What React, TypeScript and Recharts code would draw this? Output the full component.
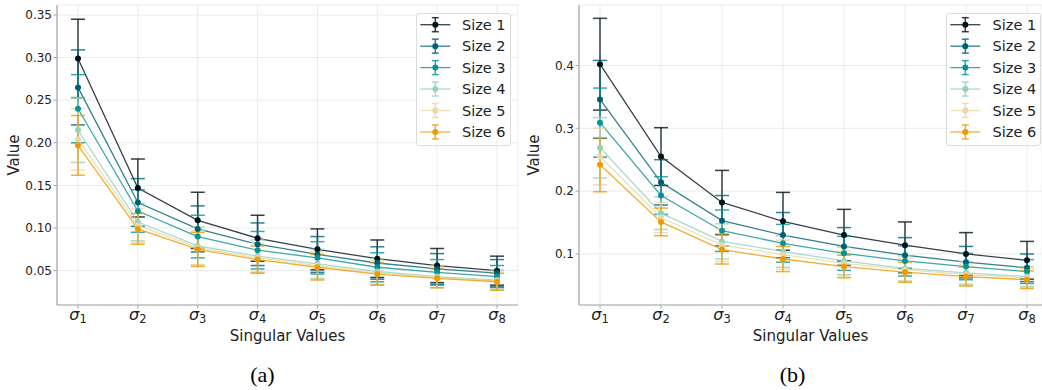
import { LineChart, Line, XAxis, YAxis, CartesianGrid, ErrorBar } from "recharts"

const categories = ["σ1", "σ2", "σ3", "σ4", "σ5", "σ6", "σ7", "σ8"]
const seriesNames = ["Size 1", "Size 2", "Size 3", "Size 4", "Size 5", "Size 6"]
const colors = ["#001219", "#005f73", "#0a9396", "#94d2bd", "#e9d8a6", "#ee9b00"]

const ticksA = [0.05, 0.1, 0.15, 0.2, 0.25, 0.3, 0.35]
const ticksB = [0.1, 0.2, 0.3, 0.4]

// (a) means and error half-widths
const meansA = [
  [0.299, 0.147, 0.109, 0.088, 0.075, 0.064, 0.056, 0.05],
  [0.265, 0.13, 0.099, 0.081, 0.069, 0.059, 0.052, 0.047],
  [0.24, 0.12, 0.09, 0.074, 0.065, 0.054, 0.048, 0.043],
  [0.215, 0.107, 0.079, 0.067, 0.058, 0.049, 0.043, 0.039],
  [0.204, 0.103, 0.077, 0.065, 0.056, 0.047, 0.042, 0.038],
  [0.197, 0.099, 0.075, 0.063, 0.054, 0.046, 0.041, 0.037],
]
const errA = [
  [0.046, 0.034, 0.033, 0.027, 0.024, 0.022, 0.02, 0.017],
  [0.044, 0.028, 0.027, 0.025, 0.021, 0.019, 0.018, 0.016],
  [0.04, 0.025, 0.025, 0.022, 0.019, 0.017, 0.015, 0.013],
  [0.038, 0.022, 0.022, 0.019, 0.017, 0.015, 0.013, 0.012],
  [0.036, 0.02, 0.02, 0.017, 0.016, 0.014, 0.012, 0.011],
  [0.035, 0.018, 0.02, 0.016, 0.015, 0.013, 0.011, 0.01],
]

// (b) means and error half-widths
const meansB = [
  [0.402, 0.255, 0.182, 0.152, 0.13, 0.114, 0.1, 0.09],
  [0.346, 0.214, 0.153, 0.13, 0.112, 0.098, 0.087, 0.078],
  [0.309, 0.193, 0.137, 0.117, 0.101, 0.089, 0.08, 0.072],
  [0.269, 0.165, 0.12, 0.104, 0.089, 0.077, 0.07, 0.064],
  [0.255, 0.158, 0.114, 0.099, 0.085, 0.075, 0.067, 0.062],
  [0.242, 0.151, 0.107, 0.092, 0.08, 0.071, 0.064, 0.059],
]
const errB = [
  [0.073, 0.046, 0.051, 0.046, 0.041, 0.037, 0.034, 0.03],
  [0.062, 0.036, 0.04, 0.036, 0.03, 0.028, 0.025, 0.022],
  [0.055, 0.03, 0.033, 0.03, 0.027, 0.024, 0.021, 0.019],
  [0.048, 0.026, 0.028, 0.025, 0.022, 0.02, 0.018, 0.016],
  [0.045, 0.024, 0.026, 0.023, 0.02, 0.018, 0.017, 0.015],
  [0.043, 0.022, 0.023, 0.02, 0.018, 0.016, 0.015, 0.014],
]

const FONT = "DejaVu Sans, sans-serif"
const TEXT = "#222"
const SPINE = "#a6a6a6"

function buildRows(means: number[][], errs: number[][]) {
  return categories.map((c, i) => {
    const row: Record<string, any> = { sv: c }
    seriesNames.forEach((_, s) => {
      row["m" + s] = means[s][i]
      row["e" + s] = errs[s][i]
    })
    return row
  })
}

function SigmaTick(props: any) {
  const { x, y, payload } = props
  return (
    <text x={x} y={y + 11.5} textAnchor="middle" fill={TEXT} fontFamily={FONT}>
      <tspan fontSize={16} fontStyle="italic">σ</tspan>
      <tspan fontSize={11.5} dy={2.5}>{payload.index + 1}</tspan>
    </text>
  )
}

function Legend({ left, iconLeft, textLeft }: { left: number; iconLeft: number; textLeft: number }) {
  return (
    <div
      style={{
        position: "absolute",
        left,
        top: 13,
        width: 95,
        height: 133,
        boxSizing: "border-box",
        border: "1px solid #dcdcdc",
        borderRadius: 3,
        background: "rgba(255,255,255,0.8)",
      }}
    >
      <svg width={95} height={133} style={{ position: "absolute", left: -1, top: -1 }}>
        {seriesNames.map((name, i) => {
          const cy = 11.7 + i * 21.45
          const ix = iconLeft - left
          const cx = ix + 15
          return (
            <g key={name}>
              <line x1={ix} x2={ix + 30} y1={cy} y2={cy} stroke={colors[i]} strokeOpacity={0.8} strokeWidth={1.3} />
              <line x1={cx} x2={cx} y1={cy - 7} y2={cy + 7} stroke={colors[i]} strokeOpacity={0.8} strokeWidth={1.5} />
              <line x1={cx - 3.5} x2={cx + 3.5} y1={cy - 7} y2={cy - 7} stroke={colors[i]} strokeOpacity={0.8} strokeWidth={1.5} />
              <line x1={cx - 3.5} x2={cx + 3.5} y1={cy + 7} y2={cy + 7} stroke={colors[i]} strokeOpacity={0.8} strokeWidth={1.5} />
              <circle cx={cx} cy={cy} r={3} fill={colors[i]} />
              <text x={textLeft - left} y={cy + 5.2} fontSize={14.5} fontFamily={FONT} fill={TEXT}>
                {name}
              </text>
            </g>
          )
        })}
      </svg>
    </div>
  )
}

function Panel(props: {
  means: number[][]
  errs: number[][]
  domain: [number, number]
  ticks: number[]
  digits: number
  width: number
  right: number
  yWidth: number
  padRight: number
}) {
  const rows = buildRows(props.means, props.errs)
  return (
    <LineChart width={props.width} height={345} data={rows} margin={{ top: 5, right: props.right, left: 7, bottom: 0 }}>
      <CartesianGrid stroke="#ebebeb" strokeWidth={1} />
      <XAxis
        dataKey="sv"
        type="category"
        scale="point"
        padding={{ left: 21, right: props.padRight }}
        height={40}
        tickLine={{ stroke: SPINE, strokeWidth: 1 }}
        tickSize={3.5}
        tickMargin={0}
        axisLine={{ stroke: SPINE, strokeWidth: 1.2 }}
        tick={(p: any) => <SigmaTick {...p} />}
        interval={0}
        label={{ value: "Singular Values", position: "insideBottom", offset: 4, fontSize: 15, fontFamily: FONT, fill: TEXT }}
      />
      <YAxis
        type="number"
        domain={props.domain}
        allowDataOverflow
        ticks={props.ticks}
        width={props.yWidth}
        tickLine={{ stroke: SPINE, strokeWidth: 1 }}
        tickSize={3.5}
        tickMargin={1.5}
        axisLine={{ stroke: SPINE, strokeWidth: 1.2 }}
        tick={{ fontSize: 12, fontFamily: FONT, fill: TEXT }}
        tickFormatter={(v: number) => v.toFixed(props.digits)}
        label={{
          value: "Value",
          angle: -90,
          position: "insideLeft",
          offset: 7,
          fontSize: 15,
          fontFamily: FONT,
          fill: TEXT,
          style: { textAnchor: "middle" },
        }}
      />
      {seriesNames.map((name, s) => (
        <Line
          key={name}
          name={name}
          dataKey={"m" + s}
          type="linear"
          stroke={colors[s]}
          strokeOpacity={0.8}
          strokeWidth={1.3}
          dot={{ r: 3, fill: colors[s], stroke: "none", fillOpacity: 1 }}
          activeDot={false}
          isAnimationActive={false}
        >
          <ErrorBar
            dataKey={"e" + s}
            direction="y"
            width={7}
            stroke={colors[s]}
            strokeOpacity={0.8}
            strokeWidth={1.5}
            isAnimationActive={false}
          />
        </Line>
      ))}
    </LineChart>
  )
}

export default function App() {
  return (
    <div style={{ position: "absolute", left: 0, top: 0, width: 1042, height: 390, background: "#fff", overflow: "hidden" }}>
      <div style={{ position: "absolute", left: 0, top: 0 }}>
        <Panel means={meansA} errs={errA} domain={[0.0097, 0.3617]} ticks={ticksA} digits={2} width={530} right={12} yWidth={50} padRight={21} />
      </div>
      <div style={{ position: "absolute", left: 520, top: 0 }}>
        <Panel means={meansB} errs={errB} domain={[0.0188, 0.4962]} ticks={ticksB} digits={1} width={522} right={0} yWidth={52} padRight={15} />
      </div>
      <Legend left={415.7} iconLeft={420} textLeft={461.7} />
      <Legend left={945.7} iconLeft={950} textLeft={992.3} />
      <svg width={1042} height={40} style={{ position: "absolute", left: 0, top: 350 }}>
        <text x={262.5} y={32} textAnchor="middle" fontFamily="Liberation Serif, serif" fontSize={22} fill="#000">
          (a)
        </text>
        <text x={792.5} y={32} textAnchor="middle" fontFamily="Liberation Serif, serif" fontSize={22} fill="#000">
          (b)
        </text>
      </svg>
    </div>
  )
}
